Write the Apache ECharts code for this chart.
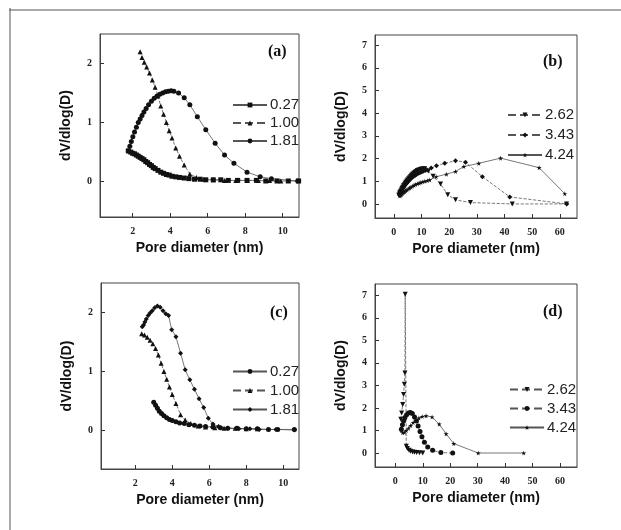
<!DOCTYPE html>
<html><head><meta charset="utf-8">
<script src="https://cdn.jsdelivr.net/npm/echarts@6/dist/echarts.min.js"></script>
<style>html,body{margin:0;padding:0;background:#fff}#c{width:621px;height:530px}</style>
</head><body><div id="c"></div>
<script>
// ---------- Panel (a) ----------
const a027X = [1.77,1.9,2.0,2.1,2.2,2.3,2.4,2.5,2.6,2.7,2.8,2.9,3.0,3.1,3.2,3.35,3.5,3.65,3.8,3.95,4.1,4.3,4.5,4.75,5.0,5.3,5.6,5.9,6.3,6.7,7.1,7.6,8.1,8.6,9.1,9.7,10.3,10.85];
const a027Y = [0.52,0.50,0.48,0.47,0.45,0.43,0.41,0.39,0.37,0.34,0.32,0.29,0.27,0.24,0.22,0.19,0.16,0.14,0.12,0.11,0.09,0.08,0.07,0.06,0.05,0.04,0.04,0.03,0.03,0.03,0.02,0.02,0.02,0.02,0.01,0.01,0.01,0.01];
const a100X = [2.4,2.5,2.62,2.75,2.9,3.05,3.2,3.35,3.5,3.65,3.8,3.95,4.1,4.3,4.5,4.75,5.05,5.4,5.8,6.3,6.9,7.5,8.1,8.7,9.3,9.9];
const a100Y = [2.20,2.10,2.02,1.94,1.84,1.72,1.60,1.45,1.28,1.14,1.00,0.86,0.74,0.57,0.43,0.28,0.13,0.07,0.04,0.03,0.02,0.02,0.02,0.02,0.02,0.01];
const a181X = [1.77,1.85,1.93,2.01,2.1,2.2,2.3,2.4,2.5,2.6,2.72,2.85,3.0,3.15,3.3,3.45,3.6,3.75,3.9,4.05,4.2,4.45,4.75,5.05,5.45,5.9,6.4,6.9,7.4,8.1,8.8,9.4,10.8];
const a181Y = [0.52,0.60,0.68,0.76,0.84,0.92,1.00,1.06,1.12,1.18,1.24,1.30,1.36,1.41,1.45,1.48,1.50,1.52,1.53,1.54,1.53,1.50,1.42,1.30,1.10,0.88,0.65,0.45,0.31,0.16,0.08,0.05,0.01];
// ---------- Panel (b) ----------
const b262X = [1.8,2.0,2.2,2.45,2.7,2.95,3.2,3.5,3.8,4.1,4.4,4.7,5.0,5.35,5.7,6.05,6.4,6.8,7.2,7.6,8.0,8.5,9.0,9.5,10.0,10.6,11.2,12.5,14.2,16.9,19.5,22.3,27.7,42.8,62.4];
const b262Y = [0.38,0.44,0.50,0.56,0.62,0.68,0.74,0.80,0.85,0.91,0.96,1.01,1.06,1.11,1.16,1.21,1.26,1.31,1.35,1.39,1.43,1.47,1.50,1.52,1.54,1.55,1.55,1.45,1.22,0.88,0.40,0.18,0.06,0.00,0.00];
const b343X = [2.0,2.25,2.5,2.75,3.0,3.3,3.6,3.9,4.2,4.55,4.9,5.25,5.6,6.0,6.4,6.85,7.3,7.8,8.3,8.85,9.4,10.0,10.6,11.3,12.0,13.5,15.4,18.4,22.3,25.9,32.0,41.9,62.5];
const b343Y = [0.40,0.46,0.52,0.58,0.63,0.69,0.74,0.80,0.85,0.90,0.95,1.00,1.05,1.10,1.14,1.19,1.23,1.27,1.31,1.35,1.38,1.41,1.44,1.47,1.50,1.58,1.68,1.79,1.91,1.84,1.20,0.31,0.00];
const b424X = [2.2,2.5,2.8,3.15,3.5,3.9,4.3,4.75,5.2,5.7,6.2,6.75,7.3,7.9,8.5,9.15,9.8,10.5,11.2,12.1,13.0,15.3,19.0,22.3,25.3,30.7,38.6,52.5,61.8];
const b424Y = [0.35,0.38,0.42,0.46,0.50,0.54,0.58,0.62,0.66,0.70,0.74,0.78,0.82,0.86,0.89,0.92,0.95,0.98,1.00,1.03,1.06,1.20,1.31,1.43,1.65,1.79,2.02,1.60,0.45];
// ---------- Panel (c) ----------
const c027X = [3.0,3.1,3.2,3.3,3.42,3.55,3.7,3.85,4.0,4.2,4.4,4.65,4.9,5.2,5.5,5.8,6.2,6.6,7.0,7.5,8.0,8.6,9.2,9.7,10.6];
const c027Y = [0.47,0.42,0.37,0.32,0.28,0.24,0.21,0.18,0.16,0.14,0.12,0.11,0.09,0.08,0.07,0.06,0.05,0.04,0.03,0.03,0.02,0.02,0.01,0.01,0.01];
const c100X = [2.35,2.5,2.65,2.8,2.95,3.1,3.25,3.4,3.55,3.7,3.85,4.0,4.2,4.45,4.7,5.0,5.4,5.8,6.3,6.8,7.4,8.0,8.6];
const c100Y = [1.63,1.61,1.57,1.52,1.46,1.38,1.27,1.13,0.99,0.86,0.73,0.60,0.45,0.26,0.17,0.11,0.07,0.05,0.04,0.03,0.03,0.02,0.02];
const c181X = [2.38,2.45,2.52,2.6,2.7,2.8,2.92,3.05,3.2,3.35,3.5,3.65,3.8,3.97,4.2,4.45,4.7,4.95,5.2,5.45,5.7,5.95,6.2,6.5,7.0,7.6,8.2,8.7,9.6,10.6];
const c181Y = [1.75,1.78,1.83,1.88,1.94,1.98,2.02,2.07,2.10,2.08,2.02,1.97,1.94,1.70,1.58,1.30,1.02,0.85,0.69,0.53,0.38,0.20,0.10,0.06,0.03,0.02,0.02,0.01,0.01,0.00];
// ---------- Panel (d) ----------
const d262X = [2.0,2.3,2.7,3.0,3.3,3.5,3.6,4.0,4.4,5.0,5.6,6.3,7.0,7.8,8.8,10.0];
const d262Y = [1.50,1.78,2.15,2.60,3.05,3.55,7.05,0.30,0.20,0.12,0.08,0.05,0.03,0.02,0.01,0.00];
const d343X = [2.2,2.6,3.0,3.5,4.1,4.8,5.5,6.2,7.0,7.7,8.3,9.0,9.7,10.6,11.8,13.6,16.6,20.9];
const d343Y = [1.05,1.25,1.42,1.58,1.70,1.78,1.80,1.75,1.60,1.42,1.20,0.95,0.72,0.48,0.27,0.12,0.02,0.00];
const d424X = [2.2,2.7,3.3,4.0,4.8,5.6,6.5,7.5,8.6,9.8,11.2,13.4,16.0,18.5,21.3,30.2,46.8];
const d424Y = [1.00,0.90,0.92,1.00,1.10,1.22,1.35,1.45,1.55,1.62,1.65,1.60,1.28,0.85,0.42,0.00,0.00];
// ---------- tick labels ----------
const ticksSmallX = [2,4,6,8,10];
const ticksSmallY = [0,1,2];
const ticksWideX = [0,10,20,30,40,50,60];
const ticksWideY = [0,1,2,3,4,5,6,7];

const zip = (xs, ys) => xs.map((x, i) => [x, ys[i]]);
const STAR = 'path://M50,0 L61,35 L98,35 L68,57 L79,91 L50,70 L21,91 L32,57 L2,35 L39,35 Z';

const grids = [
  {left:100, top:34, width:199, height:183},
  {left:375, top:35, width:202, height:183},
  {left:101, top:283, width:198, height:186},
  {left:375, top:284, width:202, height:183}
].map(g => Object.assign({show:true, borderColor:'#444', borderWidth:1, backgroundColor:'transparent'}, g));

const labelFont = {fontFamily:'Liberation Serif', fontWeight:'bold', fontSize:10, color:'#222'};
const titleFont = {fontFamily:'Liberation Sans', fontWeight:'bold', fontSize:14, color:'#111'};

function xAx(gi, min, max, ticks) {
  return {gridIndex:gi, type:'value', min, max,
    axisLine:{show:true, onZero:false, lineStyle:{color:'#444', width:1}},
    axisTick:{show:true, inside:true, length:4, customValues:ticks, lineStyle:{color:'#333'}},
    axisLabel:Object.assign({customValues:ticks, margin:9}, labelFont),
    splitLine:{show:false},
    name:'Pore diameter (nm)', nameLocation:'middle', nameGap:24, nameTextStyle:titleFont};
}
function yAx(gi, min, max, ticks) {
  return {gridIndex:gi, type:'value', min, max,
    axisLine:{show:true, onZero:false, lineStyle:{color:'#444', width:1}},
    axisTick:{show:true, inside:true, length:4, customValues:ticks, lineStyle:{color:'#333'}},
    axisLabel:Object.assign({customValues:ticks, margin:8}, labelFont),
    splitLine:{show:false},
    name:'dV/dlog(D)', nameLocation:'middle', nameGap:27, nameTextStyle:titleFont};
}

function ser(id, label, gi, xs, ys, symbol, dash, rotate) {
  return {type:'line', name:id + '|' + label, xAxisIndex:gi, yAxisIndex:gi,
    data:zip(xs, ys), symbol:symbol, symbolSize:5, symbolRotate:rotate || 0,
    showSymbol:true, showAllSymbol:true,
    lineStyle:{color:'#555', width:0.8, type: dash ? 'dashed' : 'solid'},
    itemStyle:{color:'#111'}, emphasis:{disabled:true}};
}

const series = [
  ser('a','0.27',0,a027X,a027Y,'rect',false),
  ser('a','1.00',0,a100X,a100Y,'triangle',true),
  ser('a','1.81',0,a181X,a181Y,'circle',false),
  ser('b','2.62',1,b262X,b262Y,'triangle',true,180),
  ser('b','3.43',1,b343X,b343Y,'diamond',true),
  ser('b','4.24',1,b424X,b424Y,STAR,false),
  ser('c','0.27',2,c027X,c027Y,'circle',false),
  ser('c','1.00',2,c100X,c100Y,'triangle',true),
  ser('c','1.81',2,c181X,c181Y,'diamond',false),
  ser('d','2.62',3,d262X,d262Y,'triangle',true,180),
  ser('d','3.43',3,d343X,d343Y,'circle',true),
  ser('d','4.24',3,d424X,d424Y,STAR,false)
];

function leg(id, labels, left, top, lh) {
  return {orient:'vertical', left:left, top:top, itemWidth:34, itemHeight:6, itemGap:0,
    data:labels.map(l => id + '|' + l), selectedMode:false,
    formatter: n => n.split('|')[1],
    textStyle:{fontFamily:'Liberation Sans', fontSize:15, color:'#222', lineHeight:lh, padding:[0,0,0,-2]}};
}

const panelText = (t, x, y) => ({type:'text', left:x, top:y,
  style:{text:t, font:'bold 16px "Liberation Serif"', fill:'#111'}});

const option = {
  animation:false,
  backgroundColor:'#fff',
  grid:grids,
  xAxis:[xAx(0,0.26,10.87,ticksSmallX), xAx(1,-6.8,66.2,ticksWideX), xAx(2,0.15,10.85,ticksSmallX), xAx(3,-7.4,66.2,ticksWideX)],
  yAxis:[yAx(0,-0.6,2.5,ticksSmallY), yAx(1,-0.62,7.45,ticksWideY), yAx(2,-0.66,2.49,ticksSmallY), yAx(3,-0.62,7.5,ticksWideY)],
  legend:[
    leg('a',['0.27','1.00','1.81'],227,91,18),
    leg('b',['2.62','3.43','4.24'],502,100,20),
    leg('c',['0.27','1.00','1.81'],227,357,19),
    leg('d',['2.62','3.43','4.24'],504,375,19)
  ],
  series:series,
  graphic:[
    {type:'line', shape:{x1:9, y1:10, x2:621, y2:10}, style:{stroke:'#555', lineWidth:1}},
    {type:'line', shape:{x1:10, y1:8, x2:10, y2:530}, style:{stroke:'#555', lineWidth:1}},
    panelText('(a)', 268, 44),
    panelText('(b)', 543, 54),
    panelText('(c)', 270, 305),
    panelText('(d)', 543, 304)
  ]
};
const chart = echarts.init(document.getElementById('c'), null, {renderer:'canvas'});
chart.setOption(option);
</script></body></html>
